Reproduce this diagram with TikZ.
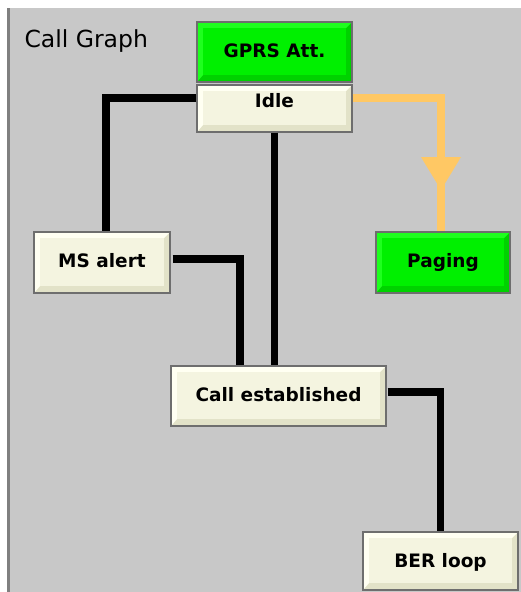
\documentclass[tikz,border=0pt]{standalone}
\usepackage{fontspec}
\setmainfont{DejaVu Sans}
\definecolor{panel}{HTML}{C8C8C8}
\definecolor{edgegray}{HTML}{808080}
\definecolor{bordergray}{HTML}{6E6E6E}
\definecolor{creamlight}{HTML}{FFFFF2}
\definecolor{creamface}{HTML}{F4F4E0}
\definecolor{creamdark}{HTML}{E2E2C8}
\definecolor{greenlight}{HTML}{1EFF1E}
\definecolor{greenface}{HTML}{00F000}
\definecolor{greendark}{HTML}{00D200}
\definecolor{orangeline}{HTML}{FFC864}
\tikzset{
  bevel/.style n args={3}{path picture={
    \fill[#3] (path picture bounding box.south west) rectangle (path picture bounding box.north east);
    \fill[#1] (path picture bounding box.south west) -- (path picture bounding box.north west)
      -- (path picture bounding box.north east) -- ([shift={(-6pt,-6pt)}]path picture bounding box.north east)
      -- ([shift={(6pt,-6pt)}]path picture bounding box.north west) -- ([shift={(6pt,7pt)}]path picture bounding box.south west) -- cycle;
    \fill[#2] ([shift={(6pt,7pt)}]path picture bounding box.south west) rectangle ([shift={(-6pt,-6pt)}]path picture bounding box.north east);
  }},
  btn/.style={rectangle, draw=bordergray, line width=1.2pt, inner sep=0pt,
    font=\fontsize{18.5}{20}\selectfont\bfseries, text height=13.5pt, text depth=3pt},
  cream/.style={btn, bevel={creamlight}{creamface}{creamdark}},
  green/.style={btn, bevel={greenlight}{greenface}{greendark}},
  wire/.style={line width=7.5pt, black},
  owire/.style={line width=7.5pt, orangeline},
}
\begin{document}
\begin{tikzpicture}[x=1pt,y=-1pt]
\useasboundingbox (0,0) rectangle (521,592);
\fill[white] (0,0) rectangle (521,592);
\fill[panel] (8,8) rectangle (521,592);
\fill[edgegray] (7,8) rectangle (9.5,592);

\node[anchor=base west, font=\fontsize{23.5}{26}\selectfont] (title) at (21,47) {Call Graph};

\node[green, minimum width=155pt, minimum height=60pt] (gprs) at (274.5,52) {GPRS Att.};
\node[cream, minimum width=155pt, minimum height=47pt, text depth=16pt] (idle) at (274.5,108.5) {Idle};
\node[cream, minimum width=136pt, minimum height=61pt] (msalert) at (102,262.5) {MS alert};
\node[green, minimum width=134pt, minimum height=61pt] (paging) at (443,262.5) {Paging};
\node[cream, minimum width=215pt, minimum height=60pt, text depth=2pt] (callest) at (278.5,396) {Call established};
\node[cream, minimum width=155pt, minimum height=58pt, text depth=0pt] (berloop) at (440.5,561) {BER loop};

\draw[wire] ([yshift=10.5pt]idle.west) -| ([xshift=4pt]msalert.north);
\draw[wire] (idle.south) -- (idle.south |- callest.north);
\draw[wire] ([shift={(2pt,3.5pt)}]msalert.east) -| ([xshift=-38.5pt]callest.north);
\draw[wire] ([shift={(1pt,4pt)}]callest.east) -| (berloop.north);
\draw[owire] ([yshift=10.5pt]idle.east) -| ([xshift=-2pt]paging.north);
\coordinate (atip) at (441,190);
\fill[orangeline] (atip) -- ++(-20,-33) -- ++(40,0) -- cycle;
\end{tikzpicture}
\end{document}
